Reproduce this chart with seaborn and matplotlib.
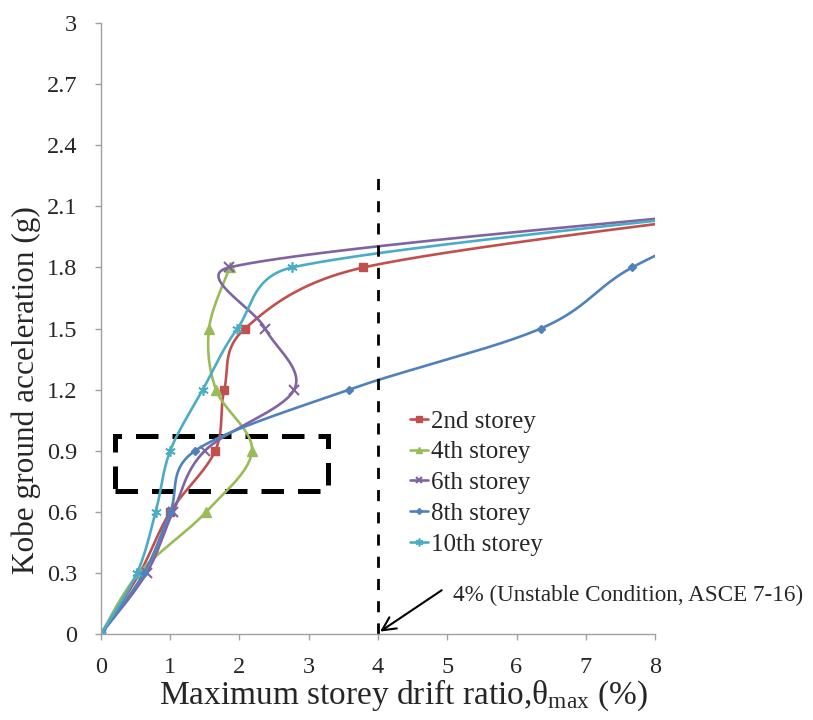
import numpy as np
import pandas as pd
import matplotlib
matplotlib.use("Agg")
import matplotlib.pyplot as plt
from matplotlib.lines import Line2D
from matplotlib.patches import Rectangle
import seaborn as sns

# Incremental dynamic analysis results (drift %, PGA g) per storey
labels = ["2nd storey", "4th storey", "6th storey", "8th storey", "10th storey"]
drift_2nd = [0.0, 0.56, 1.00, 1.65, 1.78, 2.08, 3.79, 10.0]
pga_2nd = [0.0, 0.3, 0.6, 0.9, 1.2, 1.5, 1.8, 2.1]
drift_4th = [0.0, 0.55, 1.52, 2.18, 1.66, 1.56, 1.86]
pga_4th = [0.0, 0.3, 0.6, 0.9, 1.2, 1.5, 1.8]
drift_6th = [0.0, 0.66, 1.04, 1.50, 2.79, 2.37, 1.85, 9.9]
pga_6th = [0.0, 0.3, 0.6, 0.9, 1.2, 1.5, 1.8, 2.1]
drift_8th = [0.0, 0.62, 1.00, 1.36, 3.58, 6.35, 7.67, 9.6]
pga_8th = [0.0, 0.3, 0.6, 0.9, 1.2, 1.5, 1.8, 2.1]
drift_10th = [0.0, 0.52, 0.79, 1.00, 1.47, 1.97, 2.76, 9.9]
pga_10th = [0.0, 0.3, 0.6, 0.9, 1.2, 1.5, 1.8, 2.1]

x_ticks = [0, 1, 2, 3, 4, 5, 6, 7, 8]
y_ticks = [0, 0.3, 0.6, 0.9, 1.2, 1.5, 1.8, 2.1, 2.4, 2.7, 3.0]
y_tick_labels = ["0", "0.3", "0.6", "0.9", "1.2", "1.5", "1.8", "2.1", "2.4", "2.7", "3"]

drift_limit = 4.0

series = [
    (labels[0], drift_2nd, pga_2nd, "#C0504D", "s", 6, 1.0),
    (labels[1], drift_4th, pga_4th, "#9BBB59", "^", 6.5, 1.0),
    (labels[2], drift_6th, pga_6th, "#8064A2", "x", 6.5, 1.5),
    (labels[3], drift_8th, pga_8th, "#4F81BD", "D", 4, 1.0),
    (labels[4], drift_10th, pga_10th, "#4BACC6", (6, 2, 0), 7.5, 1.2),
]

sns.set_theme(style="white")
plt.rcParams["font.family"] = ["Liberation Serif", "DejaVu Serif"]
plt.rcParams["mathtext.fontset"] = "custom"
plt.rcParams["mathtext.rm"] = "Liberation Serif"
plt.rcParams["mathtext.it"] = "Liberation Serif"

fig = plt.figure(figsize=(8.13, 7.2), dpi=100)
ax = fig.add_axes([0.1242, 0.1194, 0.6815, 0.8486])
ax.set_xlim(0, 8)
ax.set_ylim(0, 3)

# pixel scale of the axes, so the smoothing works in screen space
bbox = ax.get_position()
sx = bbox.width * 813 / 8.0
sy = bbox.height * 720 / 3.0


def smooth(xs, ys, n=60):
    """Bezier smoothing through every point, with control arms capped at half a segment."""
    P = np.column_stack([np.asarray(xs) * sx, np.asarray(ys) * sy])
    m = len(P)
    out = []
    t = np.linspace(0, 1, n)[:, None]
    for i in range(m - 1):
        p0 = P[i - 1] if i > 0 else P[i]
        p1 = P[i]
        p2 = P[i + 1]
        p3 = P[i + 2] if i + 2 < m else P[i + 1]
        d12 = np.linalg.norm(p2 - p1)
        d02 = np.linalg.norm(p2 - p0)
        d13 = np.linalg.norm(p3 - p1)
        f = 1 / 6.0 if d02 / 6.0 < d12 / 2.0 else d12 / (2.0 * d02)
        g = 1 / 6.0 if d13 / 6.0 < d12 / 2.0 else d12 / (2.0 * d13)
        c1 = p1 + (p2 - p0) * f
        c2 = p2 - (p3 - p1) * g
        seg = ((1 - t) ** 3) * p1 + 3 * ((1 - t) ** 2) * t * c1 + 3 * (1 - t) * t ** 2 * c2 + t ** 3 * p2
        out.append(seg if i == 0 else seg[1:])
    curve = np.vstack(out)
    return curve[:, 0] / sx, curve[:, 1] / sy


handles = []
for name, xs, ys, color, marker, ms, mew in series:
    cx, cy = smooth(xs, ys)
    df = pd.DataFrame({"drift": cx, "pga": cy})
    sns.lineplot(data=df, x="drift", y="pga", sort=False, estimator=None,
                 color=color, lw=1.9, ax=ax, legend=False)
    ax.plot(xs, ys, linestyle="none", marker=marker, markersize=ms,
            color=color, markeredgecolor=color, markeredgewidth=mew, clip_on=True)
    handles.append(Line2D([0], [0], color=color, lw=1.9, marker=marker,
                          markersize=ms * 0.75, markeredgewidth=mew, markeredgecolor=color))

# 4% unstable drift limit
ax.plot([drift_limit, drift_limit], [0, 2.29], color="black", lw=2.0,
        linestyle=(0, (4, 4)))

# highlighted region
ax.add_patch(Rectangle((0.2, 0.70), 3.08, 0.27, fill=False, edgecolor="black",
                       lw=3.6, linestyle=(0, (4.5, 2.8))))

ax.annotate("", xy=(4.03, 0.012), xytext=(4.92, 0.215), annotation_clip=False,
            arrowprops=dict(arrowstyle="->", lw=1.5, color="black",
                            shrinkA=0, shrinkB=0, mutation_scale=24))
ax.text(5.08, 0.19, "4% (Unstable Condition, ASCE 7-16)", fontsize=16.7,
        va="center", ha="left", clip_on=False)

ax.set_xticks(x_ticks)
ax.set_xticklabels([str(v) for v in x_ticks], fontsize=17.5)
ax.set_yticks(y_ticks)
ax.set_yticklabels(y_tick_labels, fontsize=17.5)
ax.tick_params(axis="both", direction="out", length=4, width=1, color="#A0A0A0",
               bottom=True, left=True)
ax.tick_params(axis="x", pad=12.5)
ax.tick_params(axis="y", pad=13)

for side in ["top", "right"]:
    ax.spines[side].set_visible(False)
for side in ["left", "bottom"]:
    ax.spines[side].set_color("#A0A0A0")
    ax.spines[side].set_linewidth(1.0)

ax.set_xlabel(r"Maximum storey drift ratio,$\mathrm{\theta_{max}}$ (%)", fontsize=24)
ax.set_ylabel("Kobe ground acceleration (g)", fontsize=22.5)
ax.xaxis.set_label_coords(0.545, -0.072)
ax.yaxis.set_label_coords(-0.109, 0.40)

ax.legend(handles, labels, loc="upper left", bbox_to_anchor=(0.539, 0.383),
          frameon=False, fontsize=18, handlelength=0.75, handletextpad=0.12,
          labelspacing=0.33, borderaxespad=0)

fig.savefig("out.png", dpi=100, facecolor="white")
